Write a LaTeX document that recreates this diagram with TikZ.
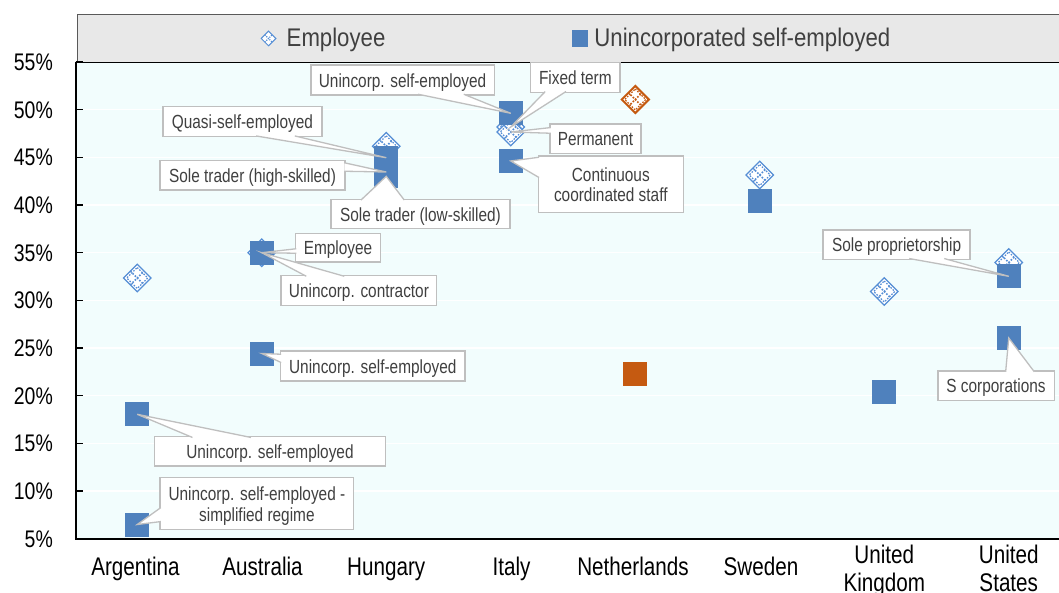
\documentclass[tikz,border=0pt]{standalone}
\usepackage{fontspec}
\setmainfont[FakeStretch=0.81]{Liberation Sans}
\newfontfamily\legfont[FakeStretch=0.87]{Liberation Sans}
\usetikzlibrary{shapes.geometric,calc}
\definecolor{sqblue}{RGB}{79,129,189}
\definecolor{empblue}{RGB}{85,142,213}
\definecolor{orng}{RGB}{197,90,17}
\definecolor{plotbg}{RGB}{242,253,253}
\definecolor{legbg}{RGB}{232,232,232}
\definecolor{legframe}{RGB}{89,89,89}
\definecolor{callgray}{RGB}{191,191,191}
\definecolor{txtgray}{RGB}{64,64,64}
\tikzset{
  sq/.style={rectangle, fill=#1, minimum size=24pt, inner sep=0pt},
  sq/.default=sqblue,
  emp/.style={diamond, aspect=1, draw=#1, fill=white, line width=1.3pt, minimum size=28pt, inner sep=0pt,
    path picture={
      \draw[#1, line width=1.7pt, dash pattern=on 1.6pt off 1.6pt]
        ($(path picture bounding box.center)+(-7,-7)$) -- ($(path picture bounding box.center)+(7,7)$)
        ($(path picture bounding box.center)+(-7,7)$) -- ($(path picture bounding box.center)+(7,-7)$);
      \draw[#1, line width=1.2pt, dash pattern=on 1.5pt off 1.5pt]
        ($(path picture bounding box.center)+(0,-10.5)$) -- ($(path picture bounding box.center)+(10.5,0)$)
        -- ($(path picture bounding box.center)+(0,10.5)$) -- ($(path picture bounding box.center)+(-10.5,0)$) -- cycle;
    }},
  emp/.default=empblue,
  legemp/.style={diamond, aspect=1, draw=empblue, fill=white, line width=1pt, minimum size=15pt, inner sep=0pt,
    path picture={
      \draw[empblue, line width=1.1pt, dash pattern=on 1.1pt off 1.1pt]
        ($(path picture bounding box.center)+(-3.7,-3.7)$) -- ($(path picture bounding box.center)+(3.7,3.7)$)
        ($(path picture bounding box.center)+(-3.7,3.7)$) -- ($(path picture bounding box.center)+(3.7,-3.7)$);
    }},
  callbox/.style={rectangle, draw=callgray, fill=white, line width=1.5pt, inner sep=0pt,
    text=txtgray, font=\fontsize{19}{20.5}\selectfont, align=center},
  ptr/.style={draw=callgray, fill=white, line width=1.3pt, line join=miter},
  ticklab/.style={anchor=base east, font=\fontsize{24}{26}\selectfont, inner sep=0pt},
  catlab/.style={anchor=base, font=\fontsize{25.5}{28.3}\selectfont, inner sep=0pt},
  legtxt/.style={anchor=base west, font=\legfont\fontsize{25.5}{28}\selectfont, text=txtgray, inner sep=0pt},
  gridln/.style={white, line width=1.2pt},
}
\newcommand\mkcallout[6]{%
  \node[callbox, minimum width={#4-#2}, minimum height={#5-#3}] (#1) at ({(#2+#4)/2},{(#3+#5)/2}) {\raisebox{-3pt}[\height][\depth]{\begin{tabular}{@{}c@{}}#6\end{tabular}}};}
\begin{document}
\begin{tikzpicture}[x=1pt,y=-1pt]
\useasboundingbox (0,0) rectangle (1059,593);
\clip (0,0) rectangle (1059,593);
\fill[white] (0,0) rectangle (1059,593);
% legend
\fill[legbg] (77.3,15) rectangle (1075,62.3);
\draw[legframe, line width=1pt] (77.3,62.3) -- (77.3,15) -- (1075,15);
\node[legemp] (legE) at (268.5,38.5) {};
\node[legtxt] (legEt) at (286.5,46.7) {Employee};
\node[sq, minimum size=16.5pt] (legS) at (580.2,38.4) {};
\node[legtxt] (legSt) at (594.2,46.7) {Unincorporated self-employed};
% plot area
\fill[plotbg] (75.7,62.3) rectangle (1075,538.7);
\foreach \v in {10,15,...,50}
  \draw[gridln] (76,{538.7-(\v-5)*9.534}) -- (1075,{538.7-(\v-5)*9.534});
\draw[black, line width=1.5pt] (75.7,62.3) -- (1075,62.3);
\draw[black, line width=1.8pt] (75.7,62.3) -- (75.7,538.7) -- (1075,538.7);
\foreach \v in {5,10,...,55}{
  \draw[black, line width=1.4pt] (75.7,{538.7-(\v-5)*9.534}) -- (83.3,{538.7-(\v-5)*9.534});
  \node[ticklab] (tl\v) at (53,{538.7-(\v-5)*9.534+8.6}) {\v\%};
}
% category labels
\node[catlab] (c0) at (135.5,575) {Argentina};
\node[catlab] (c1) at (262.5,575) {Australia};
\node[catlab] (c2) at (386.25,575) {Hungary};
\node[catlab] (c3) at (511.5,575) {Italy};
\node[catlab] (c4) at (633,575) {Netherlands};
\node[catlab] (c5) at (761,575) {Sweden};
\node[catlab] (c6) at (884.25,563.3) {\begin{tabular}[t]{@{}c@{}}United\\Kingdom\end{tabular}};
\node[catlab] (c7) at (1008.75,563.3) {\begin{tabular}[t]{@{}c@{}}United\\States\end{tabular}};
% employee markers
\node[emp] (ae) at (137.25,278) {};
\node[emp] (aue) at (261.75,252.7) {};
\node[emp] (he) at (386.25,146.3) {};
\node[emp] (ie1) at (510.75,127) {};
\node[emp] (ie2) at (510.75,132) {};
\node[emp=orng, line width=2pt] (ne) at (635.25,99.5) {};
\node[emp] (se) at (759.75,175) {};
\node[emp] (ke) at (884.25,291.5) {};
\node[emp] (ue) at (1008.75,262.5) {};
% self-employed markers
\node[sq] (as1) at (137.25,414.3) {};
\node[sq] (as2) at (137.25,524.5) {};
\node[sq] (aus1) at (261.75,252.7) {};
\node[sq] (aus2) at (261.75,353.5) {};
\node[sq] (hs1) at (386.25,157.7) {};
\node[sq] (hs2) at (386.25,172) {};
\node[sq] (hs3) at (386.25,176.3) {};
\node[sq] (is1) at (510.75,113.3) {};
\node[sq] (is2) at (510.75,161) {};
\node[sq=orng] (ns) at (635.25,373.5) {};
\node[sq] (ss) at (759.75,200.8) {};
\node[sq] (ks) at (884.25,392) {};
\node[sq] (us1) at (1008.75,276.3) {};
\node[sq] (us2) at (1008.75,338) {};
% callouts
\mkcallout{A1}{154.4}{436.7}{385.5}{466}{Unincorp. self-employed}
\path[ptr] ($(A1.north west)+(38.8,1.5)$) -- (as1.center) -- ($(A1.north west)+(97.3,1.5)$);
\mkcallout{A2}{160.1}{477.7}{353.7}{529.7}{Unincorp. self-employed -\\simplified regime}
\path[ptr] ($(A2.north west)+(1.5,30.6)$) -- (as2.center) -- ($(A2.north west)+(1.5,44.6)$);
\mkcallout{Au1}{295.5}{233.3}{380.5}{262}{Employee}
\path[ptr] ($(Au1.north west)+(1.5,16.2)$) -- (aus1.center) -- ($(Au1.north west)+(1.5,20.7)$);
\mkcallout{Au2}{281.2}{275.5}{436.7}{305.7}{Unincorp. contractor}
\path[ptr] ($(Au2.north west)+(25.8,1.5)$) -- (aus1.center) -- ($(Au2.north west)+(63.8,1.5)$);
\mkcallout{Au3}{280.4}{351}{465.2}{381}{Unincorp. self-employed}
\path[ptr] ($(Au3.north west)+(1.5,4)$) -- (aus2.center) -- ($(Au3.north west)+(1.5,12.3)$);
\mkcallout{H1}{162.8}{106.7}{322}{136.7}{Quasi-self-employed}
\path[ptr] ($(H1.south west)+(94,-1.5)$) -- (hs1.center) -- ($(H1.south west)+(132.8,-1.5)$);
\mkcallout{H2}{160.1}{160.7}{345}{190}{Sole trader (high-skilled)}
\path[ptr] ($(H2.north east)+(-1.5,2.8)$) -- (hs2.center) -- ($(H2.north east)+(-1.5,11.3)$);
\mkcallout{H3}{331.1}{199.3}{509.8}{228.7}{Sole trader (low-skilled)}
\path[ptr] ($(H3.north west)+(30.6,1.5)$) -- (hs3.center) -- ($(H3.north west)+(73.9,1.5)$);
\mkcallout{I1}{310.8}{65}{494.3}{95}{Unincorp. self-employed}
\path[ptr] ($(I1.south west)+(108.1,-1.5)$) -- (is1.center) -- ($(I1.south west)+(153.7,-1.5)$);
\mkcallout{I2}{530.7}{62.3}{620}{92.3}{Fixed term}
\path[ptr] ($(I2.south west)+(15.3,-1.5)$) -- (ie1.center) -- ($(I2.south west)+(36,-1.5)$);
\mkcallout{I3}{550}{124}{641}{153.3}{Permanent}
\path[ptr] ($(I3.north west)+(1.5,4.3)$) -- (ie2.center) -- ($(I3.north west)+(1.5,10)$);
\mkcallout{I4}{538.3}{156}{683.3}{212.7}{Continuous\\coordinated staff}
\path[ptr] ($(I4.north west)+(1.5,2)$) -- (is2.center) -- ($(I4.north west)+(1.5,22.3)$);
\mkcallout{U1}{823.2}{230}{970}{259.3}{Sole proprietorship}
\path[ptr] ($(U1.south west)+(86.8,-1.5)$) -- (us1.center) -- ($(U1.south west)+(121.8,-1.5)$);
\mkcallout{U2}{937.8}{371}{1054.3}{400.7}{S corporations}
\path[ptr] ($(U2.north west)+(68.6,1.5)$) -- (us2.center) -- ($(U2.north west)+(97.2,1.5)$);
\end{tikzpicture}
\end{document}
